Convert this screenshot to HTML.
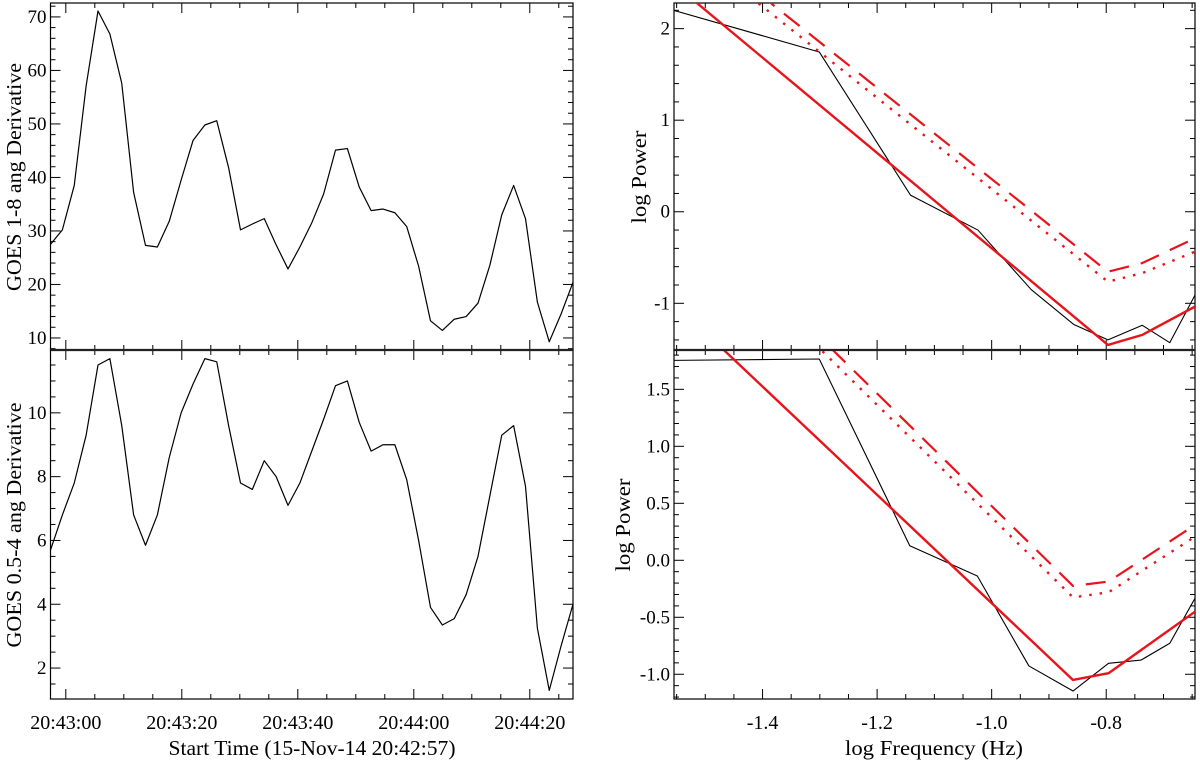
<!DOCTYPE html>
<html><head><meta charset="utf-8"><style>
body{margin:0;background:#fff}
svg{display:block}
text{font-family:"Liberation Serif",serif;fill:#000}
</style></head><body>
<svg id="fig" width="1200" height="761" viewBox="0 0 1200 761" xmlns="http://www.w3.org/2000/svg">
<defs>
<clipPath id="cTL"><rect x="50.5" y="3" width="522.5" height="347"/></clipPath>
<clipPath id="cBL"><rect x="50.5" y="350" width="522.5" height="349"/></clipPath>
<clipPath id="cTR"><rect x="674" y="3" width="521" height="347"/></clipPath>
<clipPath id="cBR"><rect x="674" y="350" width="521" height="349"/></clipPath>
</defs>
</svg>
<script>
// ---- data ----
const goesLongDeriv = [27.5,30.2,38.5,57.1,71.1,66.8,57.6,37.2,27.3,27.0,31.8,39.5,46.9,49.8,50.6,41.8,30.2,31.3,32.3,27.4,22.9,27.0,31.5,36.9,45.1,45.4,38.2,33.8,34.1,33.4,30.8,23.4,13.2,11.4,13.5,14.0,16.5,23.6,33.0,38.5,32.3,16.7,9.3,14.5,20.4];
const goesShortDeriv = [5.7,6.8,7.8,9.3,11.5,11.7,9.6,6.8,5.85,6.8,8.6,10.0,10.9,11.7,11.6,9.6,7.8,7.6,8.5,8.0,7.1,7.8,8.8,9.8,10.85,11.0,9.7,8.8,9.0,9.0,7.9,6.0,3.9,3.35,3.55,4.3,5.5,7.4,9.3,9.6,7.7,3.25,1.3,2.7,4.0];
const timeTickLabels = ["20:43:00","20:43:20","20:43:40","20:44:00","20:44:20"];
const timeTickSec = [0,20,40,60,80];
const freqTop = [-1.555,-1.301,-1.1415,-1.024,-0.931,-0.857,-0.797,-0.737,-0.689,-0.645];
const powerTop = [2.2,1.745,0.18,-0.2,-0.85,-1.23,-1.40,-1.24,-1.43,-0.91];
const fitTopFreq = [-1.555,-0.797,-0.737,-0.645];
const fitTopPow = [2.49,-1.455,-1.345,-1.036];
const dashTopFreq = [-1.45,-0.797,-0.737,-0.645];
const dashTopPow = [2.60,-0.655,-0.56,-0.29];
const dotTopFreq = [-1.45,-0.797,-0.737,-0.645];
const dotTopPow = [2.49,-0.764,-0.67,-0.436];
const freqBot = [-1.555,-1.301,-1.143,-1.025,-0.935,-0.858,-0.796,-0.739,-0.689,-0.645];
const powerBot = [1.754,1.766,0.128,-0.138,-0.927,-1.147,-0.904,-0.875,-0.728,-0.333];
const fitBotFreq = [-1.555,-0.858,-0.796,-0.645];
const fitBotPow = [2.26,-1.05,-0.991,-0.451];
const dashBotFreq = [-1.40,-0.858,-0.796,-0.645];
const dashBotPow = [2.45,-0.225,-0.187,0.31];
const dotBotFreq = [-1.40,-0.858,-0.796,-0.645];
const dotBotPow = [2.35,-0.325,-0.281,0.207];
const freqTickLabels = ["-1.4","-1.2","-1.0","-0.8"];
const freqTickVals = [-1.4,-1.2,-1.0,-0.8];

const NS="http://www.w3.org/2000/svg";
const svg=document.getElementById('fig');
function mk(tag,attrs,parent){const e=document.createElementNS(NS,tag);for(const k in attrs)e.setAttribute(k,attrs[k]);(parent||svg).appendChild(e);return e;}
function lin(d0,d1,r0,r1){return v=>r0+(v-d0)*(r1-r0)/(d1-d0);}

const P={
 TL:{x0:50.5,x1:573,y0:3,y1:350,clip:'cTL'},
 BL:{x0:50.5,x1:573,y0:350,y1:699,clip:'cBL'},
 TR:{x0:674,x1:1195,y0:3,y1:350,clip:'cTR'},
 BR:{x0:674,x1:1195,y0:350,y1:699,clip:'cBR'}
};
// scales
const xIdx=lin(0,goesLongDeriv.length-1,50.5,573);
const xSec=lin(-2.64,87.45,50.5,573);
const yTL=lin(7.75,72.6,350,3);
const yBL=lin(1.03,11.97,699,350);
const xF=lin(-1.5546,-0.645,674,1195);
const yTR=lin(-1.51,2.28,350,3);
const yBR=lin(-1.217,1.845,699,350);

function ticksY(p,scale,lo,hi,major,minor,labels,fmt,name){
  const g=mk('g',{});
  
  
  const n=Math.round((hi-lo)/minor);
  for(let i=0;i<=n;i++){
    const v=lo+i*minor; const y=scale(v);
    if(y<p.y0-0.5||y>p.y1+0.5)continue;
    const isMaj=Math.abs(v/major-Math.round(v/major))<1e-6;
    const L=isMaj?10:5;
    mk('line',{x1:p.x0,x2:p.x0+L,y1:y,y2:y,stroke:'#000','stroke-width':1},g);
    mk('line',{x1:p.x1,x2:p.x1-L,y1:y,y2:y,stroke:'#000','stroke-width':1},g);
    if(isMaj&&labels){
      const t=mk('text',{x:p.x0-4,y:y+6,'text-anchor':'end','font-size':19},g);
      t.textContent=fmt(v);
    }
  }
}
function ticksX(p,scale,lo,hi,major,minor,name){
  const g=mk('g',{});
  
  
  const n=Math.round((hi-lo)/minor);
  for(let i=0;i<=n;i++){
    const v=lo+i*minor; const x=scale(v);
    if(x<p.x0-0.5||x>p.x1+0.5)continue;
    const isMaj=Math.abs(v/major-Math.round(v/major))<1e-6;
    const L=isMaj?10:5;
    mk('line',{x1:x,x2:x,y1:p.y1,y2:p.y1-L,stroke:'#000','stroke-width':1},g);
    mk('line',{x1:x,x2:x,y1:p.y0,y2:p.y0+L,stroke:'#000','stroke-width':1},g);
  }
}
function frame(p,name){
  const r=mk('rect',{x:p.x0,y:p.y0,width:p.x1-p.x0,height:p.y1-p.y0,fill:'none',stroke:'#000','stroke-width':1.2});
  
  
}
function line(p,xs,ys,xsc,ysc,opts,name){
  const d=xs.map((x,i)=>(i?'L':'M')+xsc(x).toFixed(2)+','+ysc(ys[i]).toFixed(2)).join('');
  const a={d:d,fill:'none',stroke:opts.c,'stroke-width':opts.w,'clip-path':'url(#'+p.clip+')','stroke-linejoin':'round'};
  if(opts.dash)a['stroke-dasharray']=opts.dash;
  if(opts.cap)a['stroke-linecap']=opts.cap;
  const e=mk('path',a);
  
  
}
const idx=goesLongDeriv.map((_,i)=>i);

// Top-left
frame(P.TL,'goes-long-panel-frame');
ticksY(P.TL,yTL,8,72,10,2,true,v=>String(Math.round(v)),'goes-long-y-ticks');
ticksX(P.TL,xSec,-10,90,20,5,'goes-long-x-ticks');
line(P.TL,idx,goesLongDeriv,xIdx,yTL,{c:'#000',w:1.2},'goes-long-derivative-line');
// Bottom-left
frame(P.BL,'goes-short-panel-frame');
ticksY(P.BL,yBL,1,12,2,0.5,true,v=>String(Math.round(v)),'goes-short-y-ticks');
ticksX(P.BL,xSec,-10,90,20,5,'goes-short-x-ticks');
line(P.BL,idx,goesShortDeriv,xIdx,yBL,{c:'#000',w:1.2},'goes-short-derivative-line');
timeTickSec.forEach((s,i)=>{
  const t=mk('text',{x:xSec(s),y:729,'text-anchor':'middle','font-size':20});
  t.textContent=timeTickLabels[i];
  
  
});
// Top-right
frame(P.TR,'power-top-panel-frame');
ticksY(P.TR,yTR,-1.6,2.4,1,0.2,true,v=>String(Math.round(v)),'power-top-y-ticks');
ticksX(P.TR,xF,-1.6,-0.6,0.2,0.05,'power-top-x-ticks');
line(P.TR,freqTop,powerTop,xF,yTR,{c:'#000',w:1.1},'power-top-spectrum-line');
line(P.TR,fitTopFreq,fitTopPow,xF,yTR,{c:'#e8141b',w:2.4},'power-top-fit-line');
line(P.TR,dashTopFreq,dashTopPow,xF,yTR,{c:'#e8141b',w:2.2,dash:'20 12'},'power-top-dashed-line');
line(P.TR,dotTopFreq,dotTopPow,xF,yTR,{c:'#e8141b',w:2.4,dash:'2.5 8'},'power-top-dotted-line');
// Bottom-right
frame(P.BR,'power-bottom-panel-frame');
ticksY(P.BR,yBR,-1.3,1.9,0.5,0.1,true,v=>v.toFixed(1),'power-bottom-y-ticks');
ticksX(P.BR,xF,-1.6,-0.6,0.2,0.05,'power-bottom-x-ticks');
line(P.BR,freqBot,powerBot,xF,yBR,{c:'#000',w:1.1},'power-bottom-spectrum-line');
line(P.BR,fitBotFreq,fitBotPow,xF,yBR,{c:'#e8141b',w:2.4},'power-bottom-fit-line');
line(P.BR,dashBotFreq,dashBotPow,xF,yBR,{c:'#e8141b',w:2.2,dash:'20 12'},'power-bottom-dashed-line');
line(P.BR,dotBotFreq,dotBotPow,xF,yBR,{c:'#e8141b',w:2.4,dash:'2.5 8'},'power-bottom-dotted-line');
freqTickVals.forEach((v,i)=>{
  const t=mk('text',{x:xF(v),y:729,'text-anchor':'middle','font-size':20});
  t.textContent=freqTickLabels[i];
  
  
});
// divider lines
mk('line',{x1:50.5,x2:573,y1:350,y2:350,stroke:'#222','stroke-width':2.2});
mk('line',{x1:674,x2:1195,y1:350,y2:350,stroke:'#222','stroke-width':2.2});
// titles
function title(txt,x,y,rot,len,name){
  const t=mk('text',{x:x,y:y,'text-anchor':'middle','font-size':21,textLength:len,lengthAdjust:'spacingAndGlyphs'});
  if(rot)t.setAttribute('transform','rotate(-90 '+x+' '+y+')');
  t.textContent=txt;
  
  
}
title('GOES 1-8 ang Derivative',21,177,true,228,'y-axis-title-goes-long');
title('GOES 0.5-4 ang Derivative',21,525,true,245,'y-axis-title-goes-short');
title('log Power',646,177,true,93,'y-axis-title-power-top');
title('log Power',630,525,true,93,'y-axis-title-power-bottom');
title('Start Time (15-Nov-14 20:42:57)',312,755,false,287,'x-axis-title-time');
title('log Frequency (Hz)',934,755,false,178,'x-axis-title-frequency');
</script>
</body></html>
